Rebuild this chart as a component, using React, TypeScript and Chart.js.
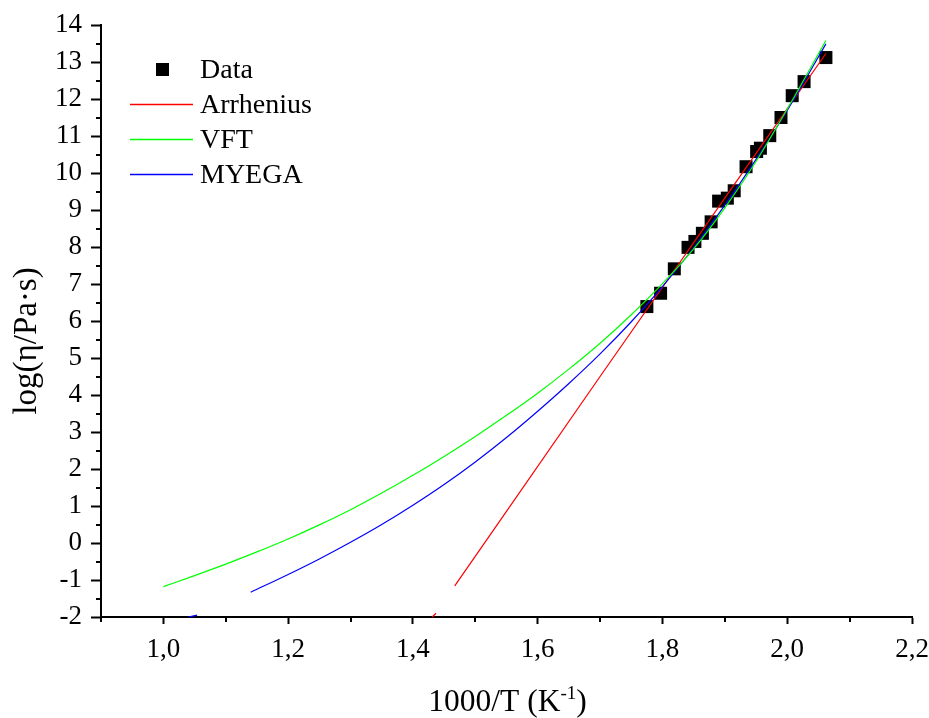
import React, { useEffect, useRef } from 'react';
import { Chart, registerables } from 'chart.js';

Chart.register(...registerables);

const FONT = "'Liberation Serif', 'Times New Roman', serif";

// Measured data (1000/T, log viscosity)
const dataX = [1.775, 1.797, 1.819, 1.841, 1.852, 1.864, 1.878, 1.890, 1.904, 1.915, 1.934, 1.951, 1.957, 1.972, 1.990, 2.008, 2.027, 2.062];
const dataY = [6.39, 6.75, 7.41, 7.99, 8.15, 8.37, 8.68, 9.24, 9.32, 9.52, 10.17, 10.58, 10.67, 11.01, 11.50, 12.09, 12.47, 13.12];

// Arrhenius fit
const arrX = [1.467, 1.700, 2.062];
const arrY = [-1.16, 4.50, 13.23];

// VFT fit
const vftX = [1.00, 1.05, 1.10, 1.15, 1.20, 1.25, 1.30, 1.35, 1.40, 1.45, 1.50, 1.55, 1.60, 1.65, 1.70, 1.75, 1.80, 1.85, 1.90, 1.95, 2.00, 2.062];
const vftY = [-1.18, -0.88, -0.57, -0.24, 0.11, 0.49, 0.90, 1.35, 1.83, 2.34, 2.88, 3.45, 4.05, 4.70, 5.40, 6.17, 7.01, 7.95, 9.06, 10.31, 11.73, 13.58];

// MYEGA fit
const myeX = [1.14, 1.20, 1.25, 1.30, 1.35, 1.40, 1.45, 1.50, 1.55, 1.60, 1.65, 1.70, 1.75, 1.80, 1.85, 1.90, 1.95, 2.00, 2.062];
const myeY = [-1.33, -0.85, -0.43, 0.02, 0.50, 1.02, 1.58, 2.19, 2.85, 3.56, 4.31, 5.11, 5.98, 6.93, 7.98, 9.13, 10.37, 11.69, 13.49];

// small stray fragments near the x axis
const redFragX = [1.431, 1.437];
const redFragY = [-2.0, -1.9];
const blueFragX = [1.040, 1.054];
const blueFragY = [-2.0, -1.95];

const xTicks = [1.0, 1.2, 1.4, 1.6, 1.8, 2.0, 2.2];
const xMinorTicks = [0.9, 1.1, 1.3, 1.5, 1.7, 1.9, 2.1];
const yTicks = [-2, -1, 0, 1, 2, 3, 4, 5, 6, 7, 8, 9, 10, 11, 12, 13, 14];
const yMinorTicks = [-1.5, -0.5, 0.5, 1.5, 2.5, 3.5, 4.5, 5.5, 6.5, 7.5, 8.5, 9.5, 10.5, 11.5, 12.5, 13.5];

const seriesNames = ['Data', 'Arrhenius', 'VFT', 'MYEGA'];

const toPts = (xs: number[], ys: number[]) => xs.map((x, i) => ({ x, y: ys[i] }));

const decorPlugin = {
  id: 'decor',
  afterDraw(chart: any) {
    const ctx = chart.ctx as CanvasRenderingContext2D;
    const xs = chart.scales.x;
    const ys = chart.scales.y;
    const area = chart.chartArea;
    ctx.save();
    ctx.strokeStyle = '#000';
    ctx.lineWidth = 2;
    // minor ticks
    ctx.beginPath();
    for (const v of xMinorTicks) {
      const px = Math.round(xs.getPixelForValue(v));
      ctx.moveTo(px, area.bottom);
      ctx.lineTo(px, area.bottom + 5);
    }
    for (const v of yMinorTicks) {
      const py = Math.round(ys.getPixelForValue(v));
      ctx.moveTo(area.left, py);
      ctx.lineTo(area.left - 5, py);
    }
    ctx.stroke();

    // legend
    const colors = ['#000000', '#ff0000', '#00ff00', '#0000ff'];
    const rowY = [70, 105, 140, 175];
    ctx.font = `28px ${FONT}`;
    ctx.textBaseline = 'middle';
    ctx.textAlign = 'left';
    ctx.fillStyle = '#000';
    seriesNames.forEach((name, i) => {
      const y = rowY[i];
      if (i === 0) {
        ctx.fillStyle = '#000';
        ctx.fillRect(156, y - 7, 13, 13);
      } else {
        ctx.strokeStyle = colors[i];
        ctx.lineWidth = 1.3;
        ctx.beginPath();
        ctx.moveTo(130, y - 0.5);
        ctx.lineTo(193, y - 0.5);
        ctx.stroke();
      }
      ctx.fillStyle = '#000';
      ctx.fillText(name, 200, y + 1);
    });

    // y title
    ctx.save();
    ctx.translate(27, 341);
    ctx.rotate(-Math.PI / 2);
    ctx.font = `33px ${FONT}`;
    ctx.textAlign = 'center';
    ctx.textBaseline = 'middle';
    ctx.fillText('log(η/Pa·s)', 0, 0);
    ctx.restore();

    // x title with superscript
    const mainFont = `31.5px ${FONT}`;
    const supFont = `19px ${FONT}`;
    const p1 = '1000/T (K';
    const p2 = '-1';
    const p3 = ')';
    ctx.font = mainFont;
    const w1 = ctx.measureText(p1).width;
    const w3 = ctx.measureText(p3).width;
    ctx.font = supFont;
    const w2 = ctx.measureText(p2).width;
    const total = w1 + w2 + w3;
    let x0 = 507.5 - total / 2;
    const base = 711;
    ctx.textAlign = 'left';
    ctx.textBaseline = 'alphabetic';
    ctx.font = mainFont;
    ctx.fillText(p1, x0, base);
    x0 += w1;
    ctx.font = supFont;
    ctx.fillText(p2, x0, base - 12);
    x0 += w2;
    ctx.font = mainFont;
    ctx.fillText(p3, x0, base);
    ctx.restore();
  },
};

export default function App() {
  const ref = useRef<HTMLCanvasElement | null>(null);
  useEffect(() => {
    if (!ref.current) return;
    const lineBase = {
      showLine: true,
      pointRadius: 0,
      pointHoverRadius: 0,
      borderWidth: 1.2,
      fill: false,
      cubicInterpolationMode: 'monotone' as const,
    };
    const chart = new Chart(ref.current, {
      type: 'scatter',
      data: {
        datasets: [
          {
            label: seriesNames[0],
            data: toPts(dataX, dataY),
            pointStyle: 'rect',
            pointRadius: 9.2,
            pointHoverRadius: 9.2,
            backgroundColor: '#000000',
            borderColor: '#000000',
            borderWidth: 0,
            showLine: false,
            order: 5,
          } as any,
          { ...lineBase, label: seriesNames[1], data: toPts(arrX, arrY), borderColor: '#ff0000', order: 4 } as any,
          { ...lineBase, label: seriesNames[3], data: toPts(myeX, myeY), borderColor: '#0000ff', order: 3 } as any,
          { ...lineBase, label: seriesNames[2], data: toPts(vftX, vftY), borderColor: '#00ff00', order: 2 } as any,
          { ...lineBase, label: 'frag1', data: toPts(redFragX, redFragY), borderColor: '#ff0000', clip: false, order: 1 } as any,
          { ...lineBase, label: 'frag2', data: toPts(blueFragX, blueFragY), borderColor: '#0000ff', clip: false, order: 1 } as any,
        ],
      },
      options: {
        responsive: false,
        animation: false,
        devicePixelRatio: 1,
        layout: { padding: { top: 25, right: 17, left: 0, bottom: 0 } },
        plugins: {
          legend: { display: false },
          tooltip: { enabled: false },
        },
        scales: {
          x: {
            type: 'linear',
            min: 0.9,
            max: 2.2,
            afterBuildTicks: (s: any) => {
              s.ticks = xTicks.map((v) => ({ value: v }));
            },
            afterFit: (s: any) => {
              s.height = 101;
              s.paddingLeft = 0;
              s.paddingRight = 0;
            },
            ticks: {
              font: { family: FONT, size: 27 },
              color: '#000',
              padding: 10,
              maxRotation: 0,
              autoSkip: false,
              callback: (v: any) => Number(v).toFixed(1).replace('.', ','),
            },
            grid: {
              display: true,
              drawOnChartArea: false,
              drawTicks: true,
              tickLength: 7,
              tickColor: '#000',
              tickWidth: 2,
            },
            border: { display: true, color: '#000', width: 2 },
          },
          y: {
            type: 'linear',
            min: -2,
            max: 14,
            afterBuildTicks: (s: any) => {
              s.ticks = yTicks.map((v) => ({ value: v }));
            },
            afterFit: (s: any) => {
              s.width = 101;
              s.paddingTop = 0;
              s.paddingBottom = 0;
            },
            ticks: {
              font: { family: FONT, size: 27 },
              color: '#000',
              padding: 9,
              autoSkip: false,
              callback: (v: any) => String(v),
            },
            grid: {
              display: true,
              drawOnChartArea: false,
              drawTicks: true,
              tickLength: 10,
              tickColor: '#000',
              tickWidth: 2,
            },
            border: { display: true, color: '#000', width: 2 },
          },
        },
      } as any,
      plugins: [decorPlugin],
    });
    return () => chart.destroy();
  }, []);

  return (
    <div style={{ position: 'absolute', left: 0, top: 0, width: 929, height: 718, background: '#fff' }}>
      <canvas ref={ref} width={929} height={718} style={{ display: 'block' }} />
    </div>
  );
}
